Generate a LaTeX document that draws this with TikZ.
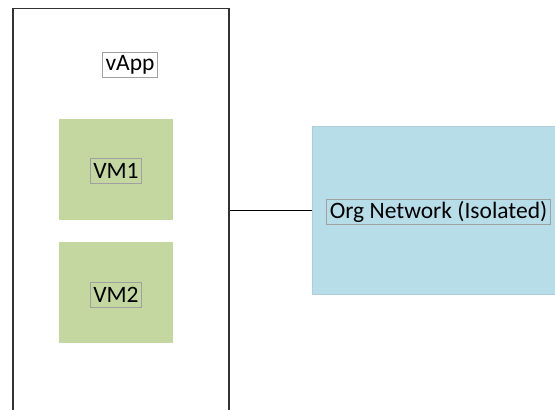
\documentclass[tikz,border=0pt]{standalone}
\usepackage{fontspec}
\setmainfont{Carlito}
\definecolor{vmgreen}{RGB}{196,215,160}
\definecolor{netblue}{RGB}{183,221,232}
\definecolor{labelgray}{RGB}{160,160,160}
\definecolor{framegray}{RGB}{50,50,50}
\begin{document}
\begin{tikzpicture}[x=1pt,y=-1pt,
  frame/.style={draw=framegray, line width=1.6pt, inner sep=0pt, anchor=north west},
  vmbox/.style={fill=vmgreen, inner sep=0pt, minimum width=114pt, minimum height=101pt, anchor=north west},
  netbox/.style={fill=netblue, draw=netblue!85!gray, line width=0.4pt, inner sep=0pt, minimum width=270pt, minimum height=168pt, anchor=north west},
  lbl/.style={draw=labelgray, line width=0.8pt, font=\fontsize{23.5}{26}\selectfont, inner xsep=3pt, inner ysep=0pt, minimum height=25pt, text=black},
  link/.style={draw=black, line width=0.9pt}
]
\useasboundingbox (0,0) rectangle (555,410);
\clip (0,0) rectangle (555,410);
\node[frame, minimum width=216pt, minimum height=440pt] (vapp) at (12,7.5) {};
\node[lbl] (vapplbl) at (130,64.5) {vApp};
\node[vmbox] (vm1) at (59,119) {};
\node[lbl] (vm1lbl) at (116,170.5) {VM1};
\node[vmbox] (vm2) at (59,242) {};
\node[lbl] (vm2lbl) at (116,294.5) {VM2};
\node[netbox] (org) at (312,126) {};
\node[lbl] (orglbl) at (438.5,211.5) {Org Network (Isolated)};
\coordinate (orgin) at (312,210);
\draw[link] (orgin -| vapp.east) -- (orgin);
\end{tikzpicture}
\end{document}
